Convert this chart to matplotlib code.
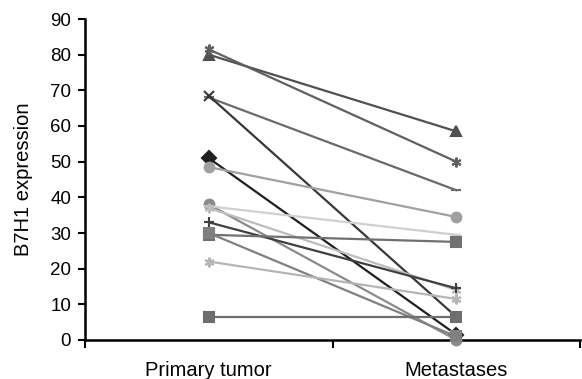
import matplotlib
matplotlib.use("Agg")
import matplotlib.pyplot as plt

plt.rcParams['font.family'] = ['Liberation Sans', 'DejaVu Sans']

categories = ["Primary tumor", "Metastases"]
primary    = [80.0, 81.5, 68.0, 68.5, 51.0, 48.5, 38.0, 37.5, 37.0, 33.0, 29.5, 30.0, 22.0, 6.5]
metastases = [58.5, 50.0, 42.0, 6.5, 1.5, 34.5, 0.0, 29.5, 14.0, 14.5, 27.5, 1.0, 11.5, 6.5]
markers    = ['^', (6, 2, 0), '_', 'x', 'D', 'o', 'o', '_', (6, 2, 0), '+', 's', 's', (6, 2, 0), 's']
colors     = ['#505050', '#606060', '#6a6a6a', '#383838', '#202020', '#a0a0a0', '#8a8a8a',
              '#d0d0d0', '#bdbdbd', '#404040', '#707070', '#808080', '#b5b5b5', '#6e6e6e']

fig = plt.figure(figsize=(5.82, 3.79), dpi=100)
ax = fig.add_axes([85/582, 39/379, 495/582, 321/379])

xs = [0.5, 1.5]
for p, m, mk, c in zip(primary, metastases, markers, colors):
    ax.plot(xs, [p, m], color=c, lw=1.6, marker=mk, ms=7, mew=1.5,
            mfc=c, mec=c, clip_on=False, zorder=3)

ax.set_xlim(0, 2)
ax.set_ylim(0, 90)
ax.set_yticks(range(0, 91, 10))
ax.set_xticks([0, 1, 2])
ax.set_xticklabels([])
ax.set_xticks(xs, minor=True)
ax.set_xticklabels(categories, minor=True, fontsize=14.5)
ax.tick_params(axis='x', which='minor', length=0, pad=15)
ax.tick_params(axis='x', which='major', direction='out', length=6, width=1.5)
ax.tick_params(axis='y', direction='out', length=5, width=1.5, labelsize=13.5, pad=5)
ax.set_ylabel("B7H1 expression", fontsize=14.5, labelpad=12)

for s in ['top', 'right']:
    ax.spines[s].set_visible(False)
for s in ['left', 'bottom']:
    ax.spines[s].set_linewidth(1.8)

fig.savefig("out.png", dpi=100)
